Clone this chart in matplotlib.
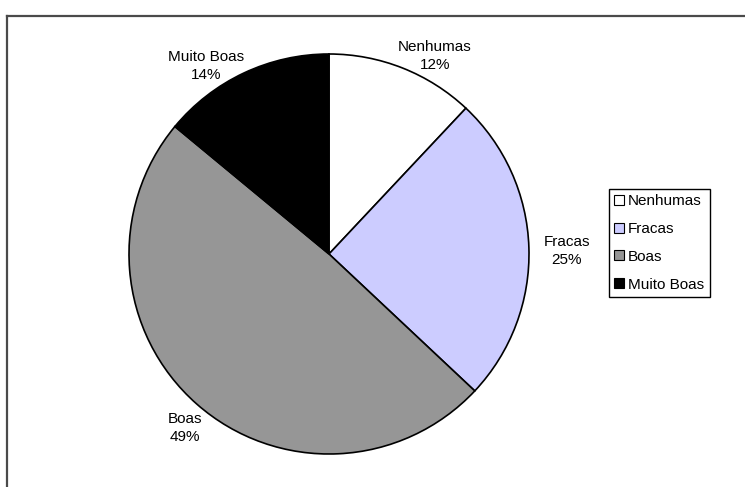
import numpy as np
import matplotlib
matplotlib.use("Agg")
import matplotlib.pyplot as plt
from matplotlib.lines import Line2D

categories = ["Nenhumas", "Fracas", "Boas", "Muito Boas"]
values = [12, 25, 49, 14]
colors = ["#FFFFFF", "#CCCCFF", "#969696", "#000000"]

# label anchor positions (layout, in pie-radius units relative to centre)
label_xy = [(0.53, 0.99), (1.19, 0.015), (-0.72, -0.87), (-0.615, 0.94)]

plt.rcParams['font.family'] = ['Liberation Sans', 'DejaVu Sans']

W, H = 745, 487
fig = plt.figure(figsize=(W / 100, H / 100), dpi=100)
fig.patch.set_facecolor("white")

# outer frame (top and left edges visible)
fig.add_artist(Line2D([7 / W, 1], [1 - 16 / H, 1 - 16 / H], transform=fig.transFigure,
                      color="#4a4a4a", lw=1.6))
fig.add_artist(Line2D([7 / W, 7 / W], [0, 1 - 16 / H], transform=fig.transFigure,
                      color="#4a4a4a", lw=1.6))

cx, cy, r = 329, 254, 200
ax = fig.add_axes([(cx - r) / W, (H - cy - r) / H, 2 * r / W, 2 * r / H])
wedges, _ = ax.pie(values, colors=colors, startangle=90, counterclock=False,
                   wedgeprops=dict(edgecolor="black", linewidth=1.2))
ax.set_xlim(-1, 1)
ax.set_ylim(-1, 1)
ax.set_aspect("equal")
ax.axis("off")

total = sum(values)
for (lx, ly), name, v in zip(label_xy, categories, values):
    ax.text(lx, ly, f"{name}\n{round(100 * v / total)}%",
            ha="center", va="center", fontsize=11, linespacing=1.45, clip_on=False)

handles = [plt.Line2D([], [], marker="s", linestyle="none", markersize=7,
                      markerfacecolor=c, markeredgecolor="black", markeredgewidth=0.8)
           for c in colors]
leg = fig.legend(handles, categories, loc="upper left",
                 bbox_to_anchor=(609 / W, 1 - 189 / H), fontsize=11,
                 frameon=True, fancybox=False, edgecolor="black", framealpha=1,
                 handlelength=0.6, handletextpad=0.3, labelspacing=0.9,
                 borderpad=0.35, borderaxespad=0)
leg.get_frame().set_linewidth(1.0)

fig.savefig("out.png", dpi=100)
